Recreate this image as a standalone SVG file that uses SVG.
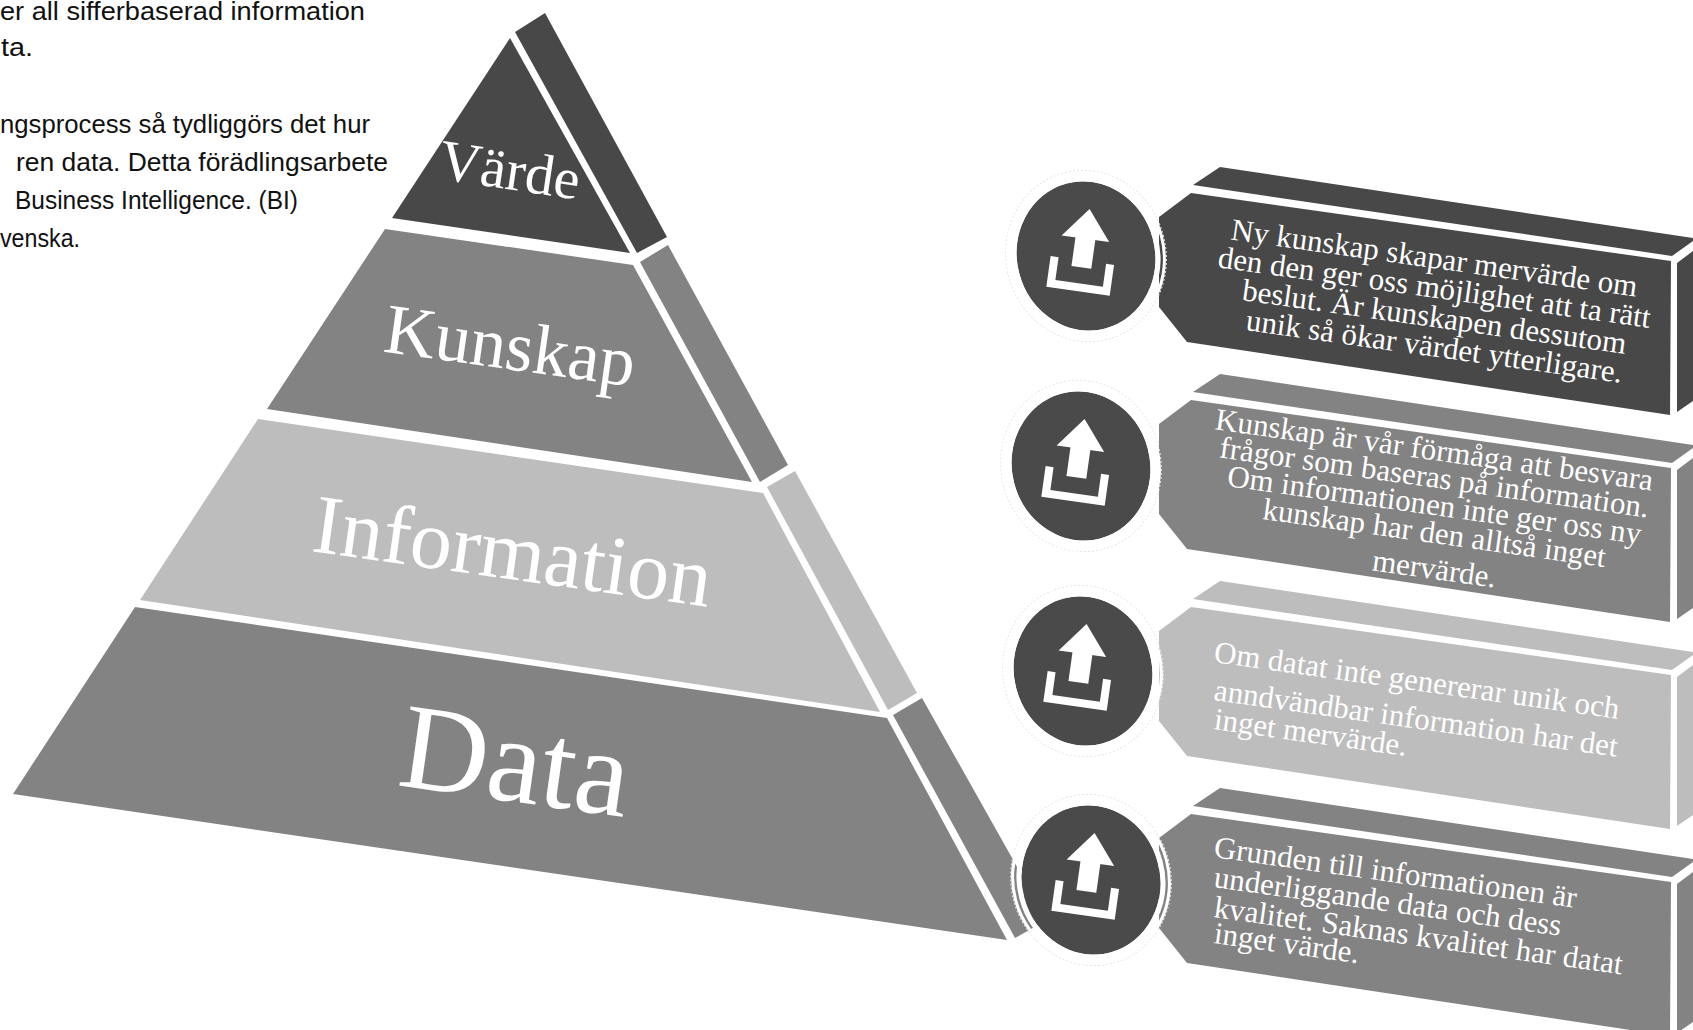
<svg xmlns="http://www.w3.org/2000/svg" width="1693" height="1030" viewBox="0 0 1693 1030">
  <style>
    .dark{fill:#484848}
    .mid{fill:#838383}
    .light{fill:#bdbdbd}
    .disc{fill:#4a4a4a}
    .ring{fill:none;stroke:#ffffff;stroke-width:5}
    .ringb{fill:none;stroke:#ffffff;stroke-width:3}
    .ring2{fill:none;stroke:#e4e4e4;stroke-width:1;stroke-dasharray:2 2}
    .icon{fill:#ffffff}
    .intro{font-family:"Liberation Sans",Arial,sans-serif;font-size:25.5px;fill:#111111}
    .lbl{font-family:"Liberation Serif","Times New Roman",serif;fill:#ffffff;text-anchor:middle}
    .bt{font-family:"Liberation Serif","Times New Roman",serif;font-size:31px;fill:#ffffff}
    .c{text-anchor:middle}
    .s{text-anchor:start}
  </style>
  <defs>
    <g id="upload-icon">
      <polygon points="-3,-47 -27,-17 21,-17"/>
      <rect x="-13" y="-18" width="20" height="30"/>
      <path d="M-35,5 h8 v23 h48 v-23 h8 v31 h-64 z"/>
    </g>
  </defs>
  <rect width="1693" height="1030" fill="#ffffff"/>

  <g id="intro-text">
    <text class="intro" x="0" y="20" textLength="365" lengthAdjust="spacingAndGlyphs">er all sifferbaserad information</text>
    <text class="intro" x="1" y="56" textLength="32" lengthAdjust="spacingAndGlyphs">ta.</text>
    <text class="intro" x="0" y="133" textLength="370" lengthAdjust="spacingAndGlyphs">ngsprocess så tydliggörs det hur</text>
    <text class="intro" x="16" y="171" textLength="372" lengthAdjust="spacingAndGlyphs">ren data. Detta förädlingsarbete</text>
    <text class="intro" x="15" y="209" textLength="283" lengthAdjust="spacingAndGlyphs">Business Intelligence. (BI)</text>
    <text class="intro" x="0" y="247" textLength="80" lengthAdjust="spacingAndGlyphs">venska.</text>
  </g>

  <g id="layer-data">
    <polygon class="mid" points="135,607 887,718 1007,940 13,794"/>
    <polygon class="mid" points="893,715 922,698 1047,920 1015,938"/>
    <text class="lbl" x="510" y="801" font-size="122" transform="rotate(8 510 801)">Data</text>
  </g>
  <g id="layer-information">
    <polygon class="light" points="258,419 763,493 880,712 140,600"/>
    <polygon class="light" points="767,487 795,471 917,693 888,710"/>
    <text class="lbl" x="509" y="579" font-size="84" transform="rotate(8 509 579)">Information</text>
  </g>
  <g id="layer-kunskap">
    <polygon class="mid" points="385,229 633,265 752,482 267,409"/>
    <polygon class="mid" points="640,262 668,245 788,465 760,482"/>
    <text class="lbl" x="507" y="369" font-size="71" transform="rotate(8 507 369)">Kunskap</text>
  </g>
  <g id="layer-varde">
    <polygon class="dark" points="510,38 630,253 392,218"/>
    <polygon class="dark" points="515,32 545,13 667,237 637,253"/>
    <text class="lbl" x="507" y="189" font-size="58" transform="rotate(8.5 507 189)">Värde</text>
  </g>

  <g id="connectors"></g>

  <g id="box-1">
    <polygon class="dark" points="1193,185 1220,167 1693,238 1693,241 1672,256"/>
    <polygon class="dark" points="1677,263 1693,251 1693,401 1677,412"/>
    <polygon class="dark" points="1191,193 1671,261 1670,415 1187,342 1159,307 1159,217"/>
    <ellipse class="ring2" cx="1086" cy="256" rx="80" ry="86" transform="rotate(-15 1086 256)"/>
    <ellipse class="disc" cx="1086" cy="256" rx="69" ry="75" transform="rotate(-15 1086 256)"/>
    <ellipse class="ring" cx="1086" cy="256" rx="71.5" ry="77.5" transform="rotate(-15 1086 256)"/>
    <ellipse class="ringb" cx="1086" cy="256" rx="78" ry="84" transform="rotate(-15 1086 256)"/>
    <use href="#upload-icon" class="icon" transform="translate(1086 256) rotate(8)"/>
    <g class="bt c">
      <text x="1433" y="268" transform="rotate(8 1433 268)">Ny kunskap skapar mervärde om</text>
      <text x="1433" y="297.5" transform="rotate(8 1433 297.5)">den den ger oss möjlighet att ta rätt</text>
      <text x="1433" y="327" transform="rotate(8 1433 327)">beslut. Är kunskapen dessutom</text>
      <text x="1433" y="356.5" transform="rotate(8 1433 356.5)">unik så ökar värdet ytterligare.</text>
    </g>
  </g>

  <g id="box-2">
    <polygon class="mid" points="1193,392 1220,374 1693,445 1693,448 1672,463"/>
    <polygon class="mid" points="1677,470 1693,458 1693,608 1677,619"/>
    <polygon class="mid" points="1191,400 1671,468 1670,622 1187,549 1159,514 1159,424"/>
    <ellipse class="ring2" cx="1081" cy="466" rx="80" ry="86" transform="rotate(-15 1081 466)"/>
    <ellipse class="disc" cx="1081" cy="466" rx="69" ry="75" transform="rotate(-15 1081 466)"/>
    <ellipse class="ring" cx="1081" cy="466" rx="71.5" ry="77.5" transform="rotate(-15 1081 466)"/>
    <ellipse class="ringb" cx="1081" cy="466" rx="78" ry="84" transform="rotate(-15 1081 466)"/>
    <use href="#upload-icon" class="icon" transform="translate(1081 466) rotate(8)"/>
    <g class="bt c">
      <text x="1433" y="460" transform="rotate(8 1433 460)">Kunskap är vår förmåga att besvara</text>
      <text x="1433" y="487.5" transform="rotate(8 1433 487.5)">frågor som baseras på information.</text>
      <text x="1433" y="515" transform="rotate(8 1433 515)">Om informationen inte ger oss ny</text>
      <text x="1433" y="543" transform="rotate(8 1433 543)">kunskap har den alltså inget</text>
      <text x="1433" y="579" transform="rotate(8 1433 579)">mervärde.</text>
    </g>
  </g>

  <g id="box-3">
    <polygon class="light" points="1193,599 1220,581 1693,652 1693,655 1672,670"/>
    <polygon class="light" points="1677,677 1693,665 1693,815 1677,826"/>
    <polygon class="light" points="1191,607 1671,675 1670,829 1187,756 1159,721 1159,631"/>
    <ellipse class="ring2" cx="1083" cy="671" rx="80" ry="86" transform="rotate(-15 1083 671)"/>
    <ellipse class="disc" cx="1083" cy="671" rx="69" ry="75" transform="rotate(-15 1083 671)"/>
    <ellipse class="ring" cx="1083" cy="671" rx="71.5" ry="77.5" transform="rotate(-15 1083 671)"/>
    <ellipse class="ringb" cx="1083" cy="671" rx="78" ry="84" transform="rotate(-15 1083 671)"/>
    <use href="#upload-icon" class="icon" transform="translate(1083 671) rotate(8)"/>
    <g class="bt s">
      <text x="1213" y="662" transform="rotate(8 1213 662)">Om datat inte genererar unik och</text>
      <text x="1213" y="700" transform="rotate(8 1213 700)">anndvändbar information har det</text>
      <text x="1213" y="729" transform="rotate(8 1213 729)">inget mervärde.</text>
    </g>
  </g>

  <g id="box-4">
    <polygon class="mid" points="1193,806 1220,788 1693,859 1693,862 1672,877"/>
    <polygon class="mid" points="1677,884 1693,872 1693,1022 1677,1033"/>
    <polygon class="mid" points="1191,814 1671,882 1670,1036 1187,963 1159,928 1159,838"/>
    <ellipse class="ring2" cx="1091" cy="880" rx="80" ry="86" transform="rotate(-15 1091 880)"/>
    <ellipse class="disc" cx="1091" cy="880" rx="69" ry="75" transform="rotate(-15 1091 880)"/>
    <ellipse class="ring" cx="1091" cy="880" rx="71.5" ry="77.5" transform="rotate(-15 1091 880)"/>
    <ellipse class="ringb" cx="1091" cy="880" rx="78" ry="84" transform="rotate(-15 1091 880)"/>
    <use href="#upload-icon" class="icon" transform="translate(1091 880) rotate(8)"/>
    <g class="bt s">
      <text x="1213" y="857" transform="rotate(8 1213 857)">Grunden till informationen är</text>
      <text x="1213" y="887" transform="rotate(8 1213 887)">underliggande data och dess</text>
      <text x="1213" y="917" transform="rotate(8 1213 917)">kvalitet. Saknas kvalitet har datat</text>
      <text x="1213" y="943" transform="rotate(8 1213 943)">inget värde.</text>
    </g>
  </g>
</svg>
